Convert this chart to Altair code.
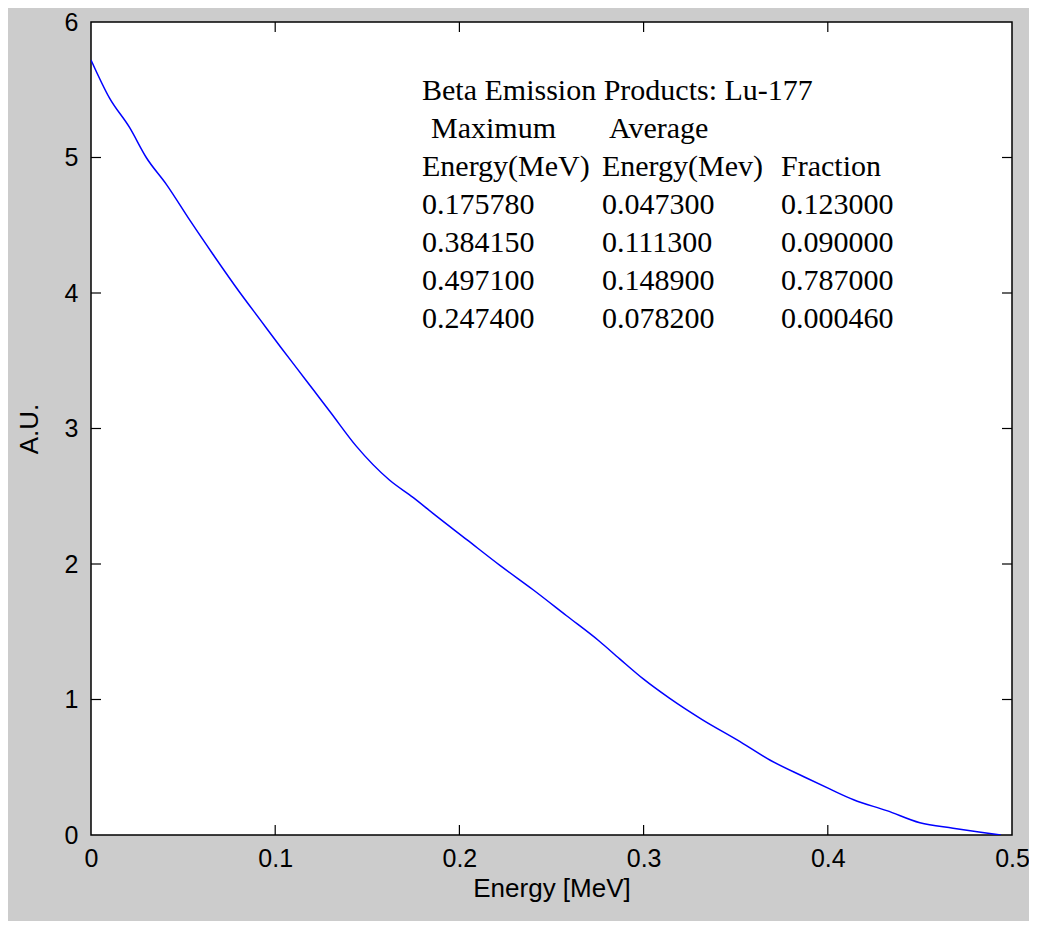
import altair as alt
import pandas as pd

# Spectrum curve
energy = [0.0, 0.010, 0.021, 0.030, 0.041, 0.054, 0.066, 0.081, 0.092, 0.103,
          0.112, 0.121, 0.130, 0.144, 0.162, 0.175, 0.186, 0.204, 0.222, 0.240,
          0.258, 0.276, 0.287, 0.300, 0.314, 0.332, 0.351, 0.369, 0.387, 0.401,
          0.414, 0.432, 0.450, 0.468, 0.483, 0.494]
au = [5.72, 5.44, 5.22, 5.00, 4.80, 4.53, 4.29, 4.00, 3.80, 3.60,
      3.44, 3.28, 3.12, 2.87, 2.62, 2.49, 2.37, 2.18, 1.99, 1.81,
      1.62, 1.43, 1.30, 1.15, 1.01, 0.85, 0.70, 0.55, 0.43, 0.34,
      0.26, 0.18, 0.09, 0.05, 0.02, 0.0]

x_ticks = [0, 0.1, 0.2, 0.3, 0.4, 0.5]
y_ticks = [0, 1, 2, 3, 4, 5, 6]

# Annotation table
ann_title = "Beta Emission Products: Lu-177"
col_head1 = ["Maximum", "Average", ""]
col_head2 = ["Energy(MeV)", "Energy(Mev)", "Fraction"]
max_energy = ["0.175780", "0.384150", "0.497100", "0.247400"]
avg_energy = ["0.047300", "0.111300", "0.148900", "0.078200"]
fraction = ["0.123000", "0.090000", "0.787000", "0.000460"]

W, H = 921, 813
XD = [0, 0.5]
YD = [0, 6]
FONT = "Liberation Sans Narrow, Liberation Sans, Arial, sans-serif"

df = pd.DataFrame({"E": energy, "A": au})

xs = alt.Scale(domain=XD, nice=False, zero=False)
ys = alt.Scale(domain=YD, nice=False, zero=False)

x_axis = alt.Axis(values=x_ticks, ticks=False, domain=False, grid=False,
                  labelFontSize=25, labelFont=FONT, labelColor="#000",
                  labelPadding=11, titleFontSize=26, titleFont=FONT,
                  titleFontWeight="normal", titleColor="#000", titlePadding=4,
                  labelFlush=False, labelBound=False, format="~g")
y_axis = alt.Axis(values=y_ticks, ticks=False, domain=False, grid=False,
                  labelFontSize=25, labelFont=FONT, labelColor="#000",
                  labelPadding=13, titleFontSize=26, titleFont=FONT,
                  titleFontWeight="normal", titleColor="#000", titlePadding=22,
                  labelFlush=False, labelBound=False, format="~g")
XT = "Energy [MeV]"
YT = "A.U."


def X(field):
    return alt.X(field, scale=xs, title=XT, axis=x_axis)


def Y(field):
    return alt.Y(field, scale=ys, title=YT, axis=y_axis)


line = alt.Chart(df).mark_line(color="#0000FF", strokeWidth=1.5, clip=True,
                               interpolate="monotone").encode(
    x=X("E:Q"), y=Y("A:Q"))

xt = pd.DataFrame({"t": x_ticks[1:-1]})
yt = pd.DataFrame({"t": y_ticks[1:-1]})
TL = 10
tick_style = dict(color="#000", strokeWidth=1.2)
bottom = alt.Chart(xt).mark_rule(**tick_style).encode(
    x=X("t:Q"), y=alt.value(H), y2=alt.value(H - TL))
top = alt.Chart(xt).mark_rule(**tick_style).encode(
    x=X("t:Q"), y=alt.value(0), y2=alt.value(TL))
left = alt.Chart(yt).mark_rule(**tick_style).encode(
    y=Y("t:Q"), x=alt.value(0), x2=alt.value(TL))
right = alt.Chart(yt).mark_rule(**tick_style).encode(
    y=Y("t:Q"), x=alt.value(W), x2=alt.value(W - TL))

# text table positioned in data coordinates
col_x = [0.1797, 0.2774, 0.3746]
head1_x = [0.1846, 0.2812, 0.3746]
y0 = 5.424
dy = 0.2804
recs = [{"x": col_x[0], "y": y0, "label": ann_title}]
for c, txt in enumerate(col_head1):
    if txt:
        recs.append({"x": head1_x[c], "y": y0 - dy, "label": txt})
for c, txt in enumerate(col_head2):
    recs.append({"x": col_x[c], "y": y0 - 2 * dy, "label": txt})
for i in range(len(max_energy)):
    for c, txt in enumerate([max_energy[i], avg_energy[i], fraction[i]]):
        recs.append({"x": col_x[c], "y": y0 - (3 + i) * dy, "label": txt})
tdf = pd.DataFrame(recs)
text = alt.Chart(tdf).mark_text(
    align="left", baseline="alphabetic", font="Liberation Serif, Times New Roman, serif",
    fontSize=30, color="#000"
).encode(
    x=X("x:Q"),
    y=Y("y:Q"),
    text="label:N",
)

chart = alt.layer(line, bottom, top, left, right, text).properties(
    width=W, height=H,
    autosize=alt.AutoSizeParams(type="none"),
    padding={"left": 83, "top": 14, "right": 17, "bottom": 86},
    background="#CCCCCC",
).configure_view(
    fill="#FFFFFF", stroke="#000000", strokeWidth=1.5
)

chart.save("out.html", embed_options={"renderer": "svg", "actions": False})
